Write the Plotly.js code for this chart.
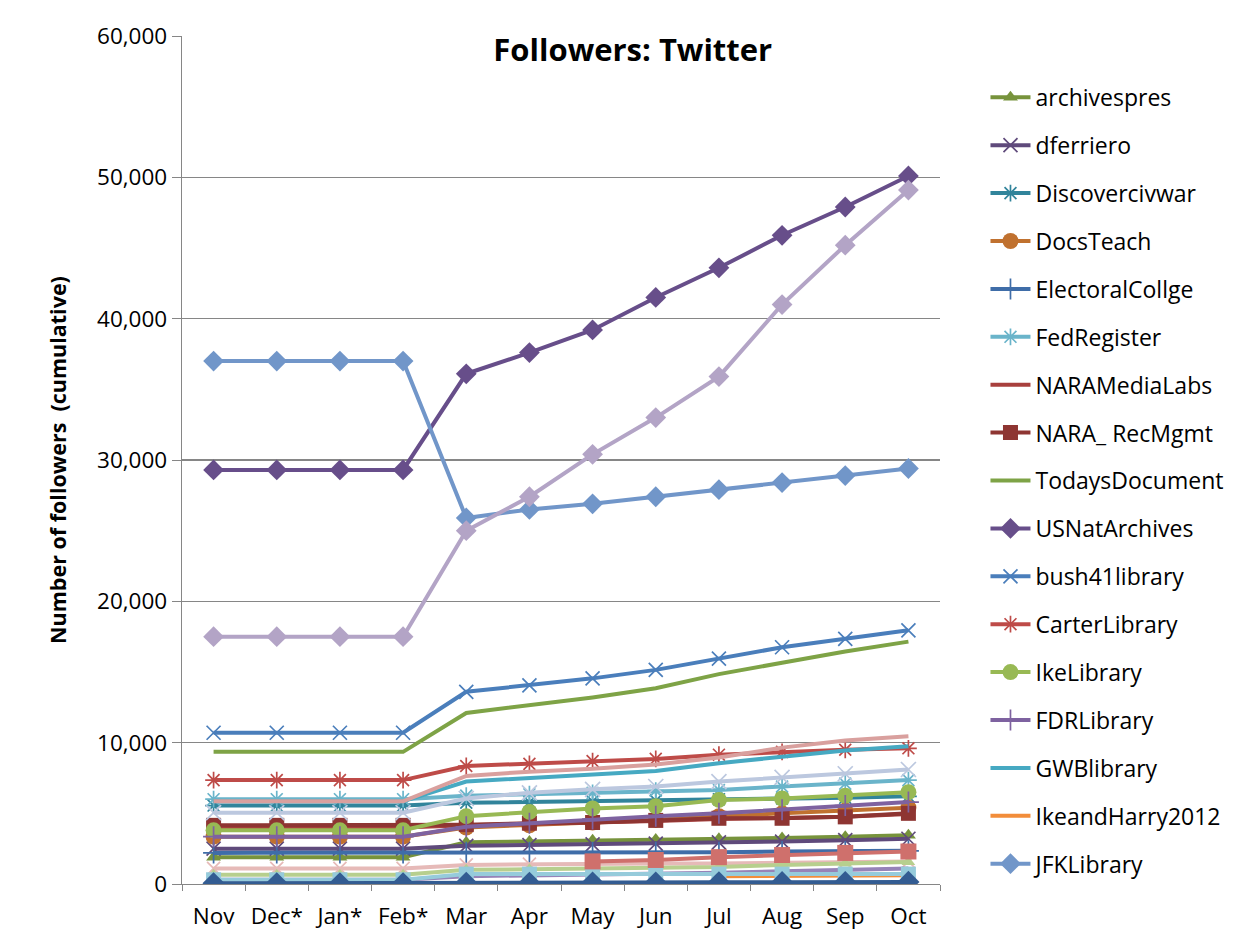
<!DOCTYPE html>
<html>
<head>
<meta charset="utf-8">
<script src="https://cdn.plot.ly/plotly-3.0.1.min.js"></script>
<style>html,body{margin:0;padding:0;background:#fff;}#chart{width:1253px;height:947px;}</style>
</head>
<body>
<div id="chart"></div>
<script>
// Categories (months)
const months = ['Nov','Dec*','Jan*','Feb*','Mar','Apr','May','Jun','Jul','Aug','Sep','Oct'];

// Series shown in the legend (cumulative followers)
const archivespres    = [1900,1900,1900,1900,2950,3000,3100,3150,3200,3250,3350,3450];
const dferriero       = [2500,2500,2500,2500,2700,2750,2800,2850,2950,3000,3100,3200];
const Discovercivwar  = [5550,5550,5550,5550,5750,5800,5850,5900,6000,6050,6100,6200];
const DocsTeach       = [3350,3350,3350,3350,4000,4150,4350,4550,4800,5000,5200,5400];
const ElectoralCollge = [2200,2200,2200,2200,2250,2250,2250,2250,2250,2300,2300,2350];
const FedRegister     = [6000,6000,6000,6000,6250,6350,6450,6600,6650,6900,7100,7350];
const NARAMediaLabs   = [4000,4000,4000,4000,4150,4250,4300,4450,4600,4650,4750,4950];
const NARA_RecMgmt    = [4150,4150,4150,4150,4200,4300,4350,4500,4650,4650,4750,5000];
const TodaysDocument  = [9350,9350,9350,9350,12100,12650,13200,13850,14850,15650,16450,17150];
const USNatArchives   = [29300,29300,29300,29300,36100,37600,39200,41500,43600,45900,47900,50100];
const bush41library   = [10700,10700,10700,10700,13600,14050,14550,15150,15950,16750,17350,17950];
const CarterLibrary   = [7350,7350,7350,7350,8350,8500,8700,8850,9150,9350,9500,9600];
const IkeLibrary      = [3800,3800,3800,3800,4800,5100,5350,5500,5950,6050,6250,6500];
const FDRLibrary      = [3350,3350,3350,3350,4050,4300,4600,4800,5000,5250,5550,5800];
const GWBlibrary      = [5850,5850,5850,5850,7250,7500,7750,8000,8550,9000,9450,9750];
const IkeandHarry2012 = [null,null,null,null,null,null,null,null,550,580,600,620];
const JFKLibrary      = [37000,37000,37000,37000,25900,26500,26900,27400,27900,28400,28900,29400];

// Further series drawn in the plot but cut off from the legend
const extraA = [17500,17500,17500,17500,25000,27400,30400,33000,35900,41000,45200,49100];
const extraB = [5850,5850,5850,5850,7650,7950,8150,8450,8950,9650,10150,10450];
const extraC = [5050,5050,5050,5050,6050,6450,6700,6900,7250,7550,7800,8100];
const extraD = [1100,1100,1100,1100,1350,1400,1400,1450,1450,1500,1550,1600];
const extraE = [650,650,650,650,1000,1050,1100,1150,1200,1350,1450,1550];
const extraF = [300,300,300,300,550,600,650,700,800,900,1000,1100];
const extraG = [300,300,300,300,700,700,700,700,700,700,700,700];
const extraH = [null,null,null,null,null,null,1600,1700,1900,2050,2200,2300];
const extraI = [50,50,50,50,80,90,100,110,120,130,140,150];

const LW = 4;
function tr(name, y, color, sym, size, open, show, group){
  const t = {
    type:'scatter', mode: sym ? 'lines+markers' : 'lines',
    x: months, y: y, name: name, showlegend: show,
    line:{color: color, width: LW},
    connectgaps:false
  };
  if (show) t.legendgroup = group;
  if (sym) {
    t.marker = open
      ? {symbol: sym, size: size, color: color, line:{color: color, width: 1.7}}
      : {symbol: sym, size: size, color: color, line:{width:0}};
  }
  return t;
}

const data = [
  tr('archivespres', archivespres, '#77933C', 'triangle-up', 13, false, true, 'g1'),
  tr('dferriero', dferriero, '#5F4A7B', 'x-thin', 14, true, true, 'g2'),
  tr('Discovercivwar', Discovercivwar, '#31849B', 'asterisk', 14, true, true, 'g3'),
  tr('DocsTeach', DocsTeach, '#C0712F', 'circle', 16, false, true, 'g4'),
  tr('ElectoralCollge', ElectoralCollge, '#3F6DA8', 'cross-thin', 15, true, true, 'g5'),
  tr('FedRegister', FedRegister, '#6AB4CA', 'asterisk', 14, true, true, 'g6'),
  tr('NARAMediaLabs', NARAMediaLabs, '#A8403D', null, 0, false, true, 'g7'),
  tr('NARA_ RecMgmt', NARA_RecMgmt, '#8E3532', 'square', 15, false, true, 'g8'),
  tr('TodaysDocument', TodaysDocument, '#7EA346', null, 0, false, true, 'g9'),
  tr('USNatArchives', USNatArchives, '#674E8A', 'diamond', 16, false, true, 'g10'),
  tr('bush41library', bush41library, '#4A7EBB', 'x-thin', 14, true, true, 'g11'),
  tr('CarterLibrary', CarterLibrary, '#BE4B48', 'asterisk', 14, true, true, 'g12'),
  tr('IkeLibrary', IkeLibrary, '#98B954', 'circle', 16, false, true, 'g13'),
  tr('FDRLibrary', FDRLibrary, '#7E62A0', 'cross-thin', 15, true, true, 'g14'),
  tr('GWBlibrary', GWBlibrary, '#46A9C2', null, 0, false, true, 'g15'),
  tr('IkeandHarry2012', IkeandHarry2012, '#F28D3A', null, 0, false, true, 'g16'),
  tr('JFKLibrary', JFKLibrary, '#7196C9', 'diamond', 16, false, true, 'g17'),
  tr('extraA', extraA, '#B3A4C6', 'diamond', 16, false, false),
  tr('extraB', extraB, '#D9A09E', null, 0, false, false),
  tr('extraC', extraC, '#BCC8DF', 'x-thin', 15, true, false),
  tr('extraD', extraD, '#E6BAB8', 'x-thin', 13, true, false),
  tr('extraE', extraE, '#B7CF8E', 'triangle-up', 12, false, false),
  tr('extraF', extraF, '#9683B8', null, 0, false, false),
  tr('extraG', extraG, '#96CBDB', 'square', 15, false, false),
  tr('extraH', extraH, '#CF706C', 'square', 16, false, false),
  tr('extraI', extraI, '#335C92', 'diamond', 17, false, false)
];

const font = '"Open Sans", Lato, "Liberation Sans", sans-serif';
const layout = {
  width:1253, height:947,
  paper_bgcolor:'#ffffff', plot_bgcolor:'#ffffff',
  margin:{l:182, r:313, t:36, b:63},
  font:{family: font, color:'#000000', size:22},
  showlegend:true,
  title:{text:'<b>Followers: Twitter</b>', font:{family: font, size:31, color:'#000'},
         x:0.505, xref:'container', xanchor:'center', y:0.947, yref:'container', yanchor:'middle'},
  xaxis:{type:'category', range:[-0.5, 11.5], showgrid:false, zeroline:false,
         showline:true, linecolor:'#868686', linewidth:1.3,
         ticks:'outside', tickson:'boundaries', ticklen:6, tickcolor:'#868686',
         ticklabelstandoff:12,
         tickfont:{family: font, size:22.5, color:'#000'}},
  yaxis:{range:[0,60000], dtick:10000, tickformat:',d', showgrid:true, gridcolor:'#868686', gridwidth:1.3,
         zeroline:false, showline:true, linecolor:'#868686', linewidth:1.3,
         ticks:'outside', ticklen:9, tickcolor:'#868686',
         tickfont:{family: font, size:22.5, color:'#000'},
         title:{text:'<b>Number of followers  (cumulative)</b>', font:{family: font, size:21.5, color:'#000'}, standoff:24}},
  legend:{x:1.06, xanchor:'left', y:0.953, yanchor:'top', bgcolor:'rgba(0,0,0,0)',
          font:{family: font, size:23, color:'#000'}, tracegroupgap:15, itemwidth:40, traceorder:'grouped'}
};

Plotly.newPlot('chart', data, layout, {displayModeBar:false, staticPlot:true});
</script>
</body>
</html>
